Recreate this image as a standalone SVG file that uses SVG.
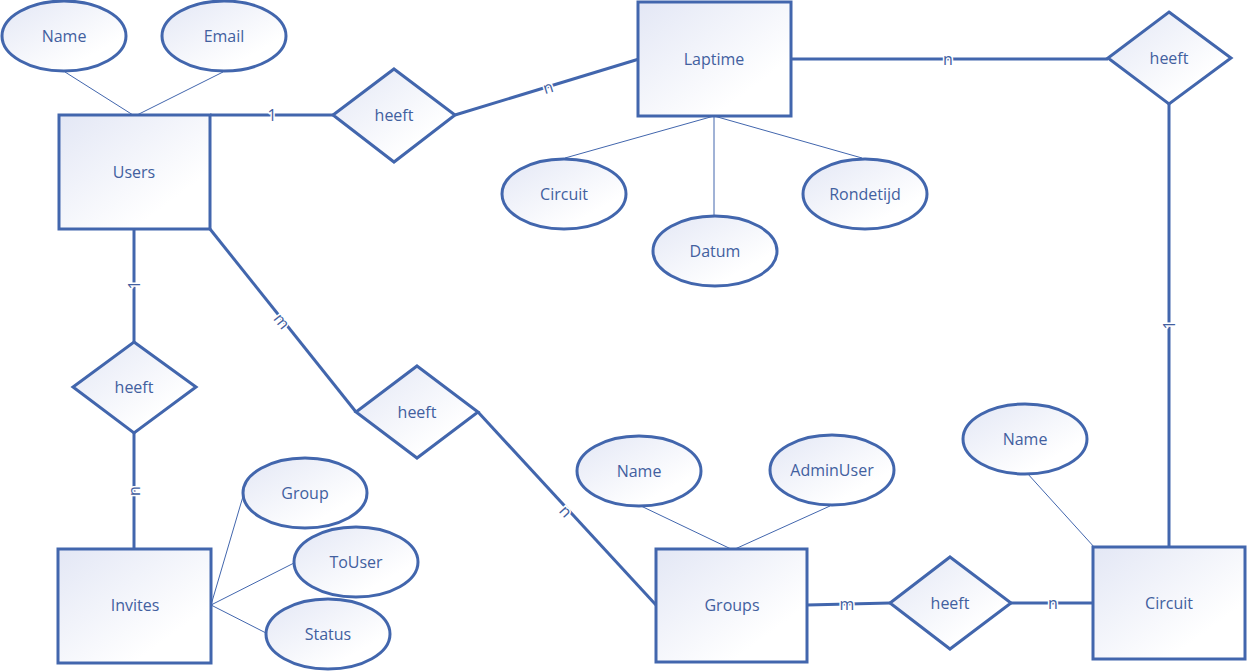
<svg xmlns="http://www.w3.org/2000/svg" width="1247" height="671" viewBox="0 0 1247 671">
  <defs>
    <linearGradient id="fill" x1="0" y1="0" x2="1" y2="1">
      <stop offset="0" stop-color="#e3e7f5"/>
      <stop offset="0.75" stop-color="#ffffff"/>
    </linearGradient>
    <style>
      .shape { fill: url(#fill); stroke: #4266ad; stroke-width: 3; }
      .rel { fill: none; stroke: #4266ad; stroke-width: 3; }
      .attr { fill: none; stroke: #4266ad; stroke-width: 1; }
      .t { font-family: "Open Sans", "Liberation Sans", sans-serif; font-size: 16px; fill: #42609f; text-anchor: middle; dominant-baseline: central; }
      .card { font-family: "Open Sans", "Liberation Sans", sans-serif; font-size: 16px; fill: #42609f; text-anchor: middle; dominant-baseline: central; stroke: #ffffff; stroke-width: 3; paint-order: stroke; }
    </style>
  </defs>
  <rect width="1247" height="671" fill="#ffffff"/>

  <!-- connectors -->
  <g id="connectors">
    <!-- attribute links -->
    <line class="attr" x1="65" y1="72" x2="133" y2="115"/>
    <line class="attr" x1="223" y1="72" x2="137" y2="115"/>
    <line class="attr" x1="714" y1="116" x2="565" y2="158"/>
    <line class="attr" x1="714" y1="116" x2="714" y2="216"/>
    <line class="attr" x1="714" y1="116" x2="862" y2="158"/>
    <line class="attr" x1="1027" y1="473" x2="1095" y2="548"/>
    <line class="attr" x1="641" y1="506" x2="731" y2="549"/>
    <line class="attr" x1="830" y1="506" x2="735" y2="549"/>
    <line class="attr" x1="211" y1="605" x2="244" y2="493"/>
    <line class="attr" x1="211" y1="605" x2="294" y2="563"/>
    <line class="attr" x1="211" y1="605" x2="266" y2="633"/>

    <!-- relationship links -->
    <line class="rel" x1="210" y1="115" x2="333" y2="115"/>
    <line class="rel" x1="455" y1="115" x2="639" y2="59"/>
    <line class="rel" x1="791" y1="59" x2="1108" y2="59"/>
    <line class="rel" x1="1169" y1="104" x2="1169" y2="548"/>
    <line class="rel" x1="1011" y1="603" x2="1093" y2="603"/>
    <line class="rel" x1="807" y1="605" x2="890" y2="603"/>
    <line class="rel" x1="210" y1="229" x2="356" y2="412"/>
    <line class="rel" x1="478" y1="412" x2="656" y2="605"/>
    <line class="rel" x1="134" y1="229" x2="134" y2="342"/>
    <line class="rel" x1="134" y1="433" x2="134" y2="549"/>

    <!-- cardinalities -->
    <text class="card" x="272" y="115">1</text>
    <text class="card" x="548" y="87" transform="rotate(-17 548 87)">n</text>
    <text class="card" x="948" y="59">n</text>
    <text class="card" x="1169" y="325" transform="rotate(-90 1169 325)">1</text>
    <text class="card" x="1053" y="603">n</text>
    <text class="card" x="847" y="604">m</text>
    <text class="card" x="282" y="321" transform="rotate(51 282 321)">m</text>
    <text class="card" x="566" y="511" transform="rotate(47 566 511)">n</text>
    <text class="card" x="134" y="285" transform="rotate(-90 134 285)">1</text>
    <text class="card" x="134" y="491" transform="rotate(-90 134 491)">n</text>
  </g>

  <!-- entities -->
  <g id="users">
    <rect class="shape" x="59" y="115" width="151" height="114"/>
    <text class="t" x="134" y="172">Users</text>
  </g>
  <g id="laptime">
    <rect class="shape" x="638" y="2" width="153" height="114"/>
    <text class="t" x="714" y="59">Laptime</text>
  </g>
  <g id="invites">
    <rect class="shape" x="58" y="549" width="153" height="114"/>
    <text class="t" x="135" y="605">Invites</text>
  </g>
  <g id="groups">
    <rect class="shape" x="656" y="549" width="151" height="113"/>
    <text class="t" x="732" y="605">Groups</text>
  </g>
  <g id="circuit">
    <rect class="shape" x="1093" y="547" width="152" height="112"/>
    <text class="t" x="1169" y="603">Circuit</text>
  </g>

  <!-- relationships -->
  <g id="rel-users-laptime">
    <polygon class="shape" points="394,69 455,115 394,162 333,115"/>
    <text class="t" x="394" y="115">heeft</text>
  </g>
  <g id="rel-laptime-circuit">
    <polygon class="shape" points="1169,12 1231,58 1169,104 1108,58"/>
    <text class="t" x="1169" y="58">heeft</text>
  </g>
  <g id="rel-users-invites">
    <polygon class="shape" points="134,342 196,387 134,433 73,387"/>
    <text class="t" x="134" y="387">heeft</text>
  </g>
  <g id="rel-users-groups">
    <polygon class="shape" points="417,366 478,412 417,458 356,412"/>
    <text class="t" x="417" y="412">heeft</text>
  </g>
  <g id="rel-groups-circuit">
    <polygon class="shape" points="950,557 1011,603 950,649 890,603"/>
    <text class="t" x="950" y="603">heeft</text>
  </g>

  <!-- attributes -->
  <g id="users-name">
    <ellipse class="shape" cx="64" cy="36" rx="62" ry="35"/>
    <text class="t" x="64" y="36">Name</text>
  </g>
  <g id="users-email">
    <ellipse class="shape" cx="224" cy="36" rx="62" ry="35"/>
    <text class="t" x="224" y="36">Email</text>
  </g>
  <g id="laptime-circuit">
    <ellipse class="shape" cx="564" cy="194" rx="62" ry="35"/>
    <text class="t" x="564" y="194">Circuit</text>
  </g>
  <g id="laptime-datum">
    <ellipse class="shape" cx="715" cy="251" rx="62" ry="35"/>
    <text class="t" x="715" y="251">Datum</text>
  </g>
  <g id="laptime-rondetijd">
    <ellipse class="shape" cx="865" cy="194" rx="62" ry="35"/>
    <text class="t" x="865" y="194">Rondetijd</text>
  </g>
  <g id="circuit-name">
    <ellipse class="shape" cx="1025" cy="439" rx="62" ry="35"/>
    <text class="t" x="1025" y="439">Name</text>
  </g>
  <g id="groups-name">
    <ellipse class="shape" cx="639" cy="471" rx="62" ry="35"/>
    <text class="t" x="639" y="471">Name</text>
  </g>
  <g id="groups-adminuser">
    <ellipse class="shape" cx="832" cy="470" rx="62" ry="35"/>
    <text class="t" x="832" y="470">AdminUser</text>
  </g>
  <g id="invites-group">
    <ellipse class="shape" cx="305" cy="493" rx="62" ry="35"/>
    <text class="t" x="305" y="493">Group</text>
  </g>
  <g id="invites-touser">
    <ellipse class="shape" cx="356" cy="562" rx="62" ry="35"/>
    <text class="t" x="356" y="562">ToUser</text>
  </g>
  <g id="invites-status">
    <ellipse class="shape" cx="328" cy="634" rx="62" ry="35"/>
    <text class="t" x="328" y="634">Status</text>
  </g>
</svg>
